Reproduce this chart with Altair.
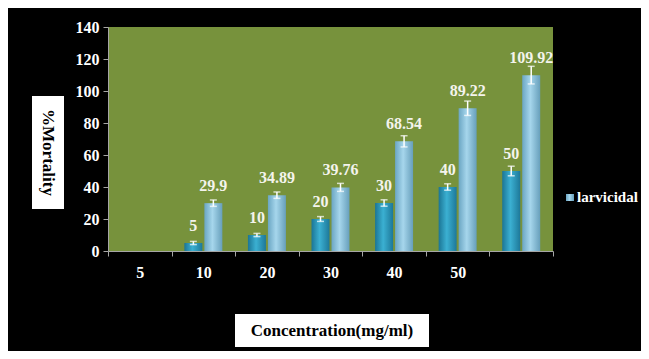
import json
import altair as alt
import pandas as pd

# ---- data ----
tick_labels = ["5", "10", "20", "30", "40", "50", ""]
bar_slots = [1, 2, 3, 4, 5, 6]
series_names = ["control", "larvicidal"]
dark_values = [5, 10, 20, 30, 40, 50]
dark_errors = [1, 1, 1.5, 2, 2, 3]
light_values = [29.9, 34.89, 39.76, 68.54, 89.22, 109.92]
light_errors = [2, 2, 2.5, 3.5, 4.5, 5.5]
y_ticks = [0, 20, 40, 60, 80, 100, 120, 140]

rows = []
for s, dv, de, lv, le in zip(bar_slots, dark_values, dark_errors, light_values, light_errors):
    rows.append({"slot": s, "series": series_names[0], "value": dv, "lo": dv - de, "hi": dv + de})
    rows.append({"slot": s, "series": series_names[1], "value": lv, "lo": lv - le, "hi": lv + le})
df = pd.DataFrame(rows)

FONT = "Liberation Serif"
GREY = "#a6a6a6"

x_axis = alt.Axis(
    title=None, labelAngle=0, labelExpr=json.dumps(tick_labels) + "[datum.value]",
    tickBand="extent", domainColor=GREY, tickColor=GREY, tickSize=5,
    labelColor="white", labelFont=FONT, labelFontWeight="bold", labelFontSize=16,
    labelPadding=8, grid=False,
)
y_axis = alt.Axis(
    title=None, values=y_ticks, domainColor=GREY, tickColor=GREY, tickSize=5,
    labelColor="white", labelFont=FONT, labelFontWeight="bold", labelFontSize=16,
    labelPadding=4, grid=False,
)

x_enc = alt.X("slot:O", scale=alt.Scale(domain=list(range(len(tick_labels))), paddingInner=0, paddingOuter=0), axis=x_axis)
xo_enc = alt.XOffset("series:N", scale=alt.Scale(domain=series_names, paddingInner=0.1, paddingOuter=0.64))
y_scale = alt.Scale(domain=[0, 140], nice=False)

dark_grad = alt.Gradient(gradient="linear", x1=0, x2=1, y1=0, y2=0, stops=[
    alt.GradientStop(offset=0, color="#1b7595"),
    alt.GradientStop(offset=0.45, color="#3bb0d2"),
    alt.GradientStop(offset=1, color="#1d7899"),
])
light_grad = alt.Gradient(gradient="linear", x1=0, x2=1, y1=0, y2=0, stops=[
    alt.GradientStop(offset=0, color="#6ba6c3"),
    alt.GradientStop(offset=0.45, color="#a6d6ec"),
    alt.GradientStop(offset=1, color="#679fbb"),
])

base = alt.Chart(df)

dark_bars = base.transform_filter(alt.datum.series == series_names[0]).mark_bar(color=dark_grad).encode(
    x=x_enc, xOffset=xo_enc, y=alt.Y("value:Q", scale=y_scale, axis=y_axis))
light_bars = base.transform_filter(alt.datum.series == series_names[1]).mark_bar(color=light_grad).encode(
    x=x_enc, xOffset=xo_enc, y=alt.Y("value:Q", scale=y_scale, axis=y_axis))
err_rule = base.mark_rule(color="white", strokeWidth=1.5).encode(
    x=x_enc, xOffset=xo_enc, y=alt.Y("lo:Q", scale=y_scale, axis=y_axis), y2="hi:Q")
cap_hi = base.mark_tick(color="white", thickness=1.5, size=7).encode(
    x=x_enc, xOffset=xo_enc, y=alt.Y("hi:Q", scale=y_scale, axis=y_axis))
cap_lo = base.mark_tick(color="white", thickness=1.5, size=7).encode(
    x=x_enc, xOffset=xo_enc, y=alt.Y("lo:Q", scale=y_scale, axis=y_axis))
labels = base.mark_text(color="#f4f4ec", font=FONT, fontWeight="bold", fontSize=16,
                        baseline="alphabetic", dy=-12).encode(
    x=x_enc, xOffset=xo_enc, y=alt.Y("value:Q", scale=y_scale, axis=y_axis), text=alt.Text("value:Q"))

one = alt.Data(values=[{"k": 1}])
y_box = alt.Chart(one).mark_rect(color="white").encode(
    x=alt.value(-76), x2=alt.value(-44), y=alt.value(69), y2=alt.value(182))
y_title = alt.Chart(one).mark_text(text="%Mortality", angle=90, color="black", font=FONT,
                                   fontWeight="bold", fontSize=17, align="center", baseline="middle").encode(
    x=alt.value(-60), y=alt.value(125.5))
x_box = alt.Chart(one).mark_rect(color="white").encode(
    x=alt.value(127), x2=alt.value(321), y=alt.value(287), y2=alt.value(320))
x_title = alt.Chart(one).mark_text(text="Concentration(mg/ml)", color="black", font=FONT,
                                   fontWeight="bold", fontSize=17, align="center", baseline="middle").encode(
    x=alt.value(224), y=alt.value(304))
leg_sym = alt.Chart(one).mark_rect(color=light_grad).encode(
    x=alt.value(458), x2=alt.value(466), y=alt.value(167), y2=alt.value(174))
leg_txt = alt.Chart(one).mark_text(text=series_names[1], color="white", font=FONT, fontWeight="bold",
                                   fontSize=15, align="left", baseline="alphabetic").encode(
    x=alt.value(469), y=alt.value(175))

chart = alt.layer(
    dark_bars, light_bars, err_rule, cap_hi, cap_lo, labels,
    y_box, y_title, x_box, x_title, leg_sym, leg_txt,
).properties(
    width=445, height=224,
    background="black",
    autosize=alt.AutoSizeParams(type="none"),
    padding={"left": 100, "top": 19, "right": 88, "bottom": 100},
).configure_view(fill="#77923c", strokeWidth=0)

chart.save("out.html", embed_options={"renderer": "svg", "actions": False})
